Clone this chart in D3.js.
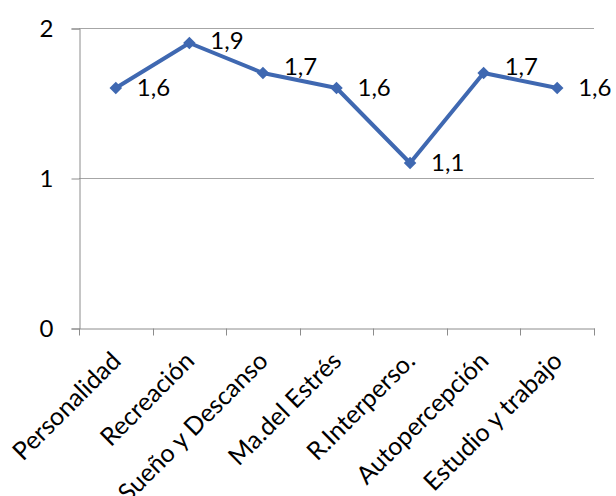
<!DOCTYPE html>
<html><head><meta charset="utf-8">
<script src="https://cdn.jsdelivr.net/npm/d3@7"></script>
<style>body{margin:0;background:#fff}svg{display:block}</style>
</head><body>
<svg id="c" width="616" height="496"></svg>
<script>
const categories = ["Personalidad","Recreación","Sueño y Descanso","Ma.del Estrés","R.Interperso.","Autopercepción","Estudio y trabajo"];
const values = [1.6,1.9,1.7,1.6,1.1,1.7,1.6];
const valueLabels = ["1,6","1,9","1,7","1,6","1,1","1,7","1,6"];
const yTicks = [0,1,2];

(function(){
const svg = d3.select("#c");
const font = "Lato, 'Open Sans', sans-serif";
const mLeft = 79, mRight = 594, mTop = 28, mBottom = 328;
const x = d3.scaleBand().domain(categories).range([mLeft, mRight]);
const y = d3.scaleLinear().domain([0,2]).range([mBottom, mTop]);
const blue = "#3f68b1";

svg.append("g").selectAll("line").data(yTicks.filter(d=>d>0)).join("line")
  .attr("x1", mLeft).attr("x2", mRight).attr("y1", d=>y(d)+0.5).attr("y2", d=>y(d)+0.5)
  .attr("stroke", "#a6a6a6").attr("stroke-width", 1);

const ya = svg.append("g").attr("transform", `translate(${mLeft+0.5},0.5)`)
  .call(d3.axisLeft(y).tickValues(yTicks).tickSize(8).tickPadding(18).tickFormat(d3.format("d")));
ya.select(".domain").attr("stroke", "#8c8c8c");
ya.selectAll(".tick line").attr("stroke", "#8c8c8c");
ya.selectAll(".tick text").attr("font-family", font).attr("font-size", 24).attr("fill", "#000");

const xa = svg.append("g").attr("transform", `translate(0.5,${mBottom+0.5})`)
  .call(d3.axisBottom(x).tickSize(0).tickFormat(""));
xa.select(".domain").attr("stroke", "#8c8c8c");
const bounds = categories.map(c => x(c)).concat([mRight]);
xa.selectAll(".bt").data(bounds).join("line").attr("class","bt")
  .attr("x1", d=>Math.round(d)).attr("x2", d=>Math.round(d)).attr("y1", 0).attr("y2", 7).attr("stroke", "#8c8c8c");
xa.selectAll(".cl").data(categories).join("text").attr("class","cl")
  .attr("transform", d => `translate(${x(d)+x.bandwidth()/2+6},${34}) rotate(-45)`)
  .attr("text-anchor", "end")
  .attr("font-family", font).attr("font-size", 25).attr("fill", "#000")
  .text(d=>d);

const cx = (d,i) => x(categories[i]) + x.bandwidth()/2;
svg.append("path").datum(values)
  .attr("d", d3.line().x((d,i)=>cx(d,i)).y(d=>y(d)))
  .attr("fill", "none").attr("stroke", blue).attr("stroke-width", 4).attr("stroke-linejoin","round");

svg.append("g").selectAll("path").data(values).join("path")
  .attr("transform", (d,i)=>`translate(${cx(d,i)},${y(d)})`)
  .attr("d", d3.symbol().type(d3.symbolDiamond2).size(100))
  .attr("fill", blue);

// label baseline: just under the point, lifted if the next segment falls into it
const labelOff = 21;
function baseline(i){
  let b = y(values[i]) + 8;
  if (i < values.length-1 && y(values[i+1]) > y(values[i])) {
    const slope = (y(values[i+1]) - y(values[i])) / x.bandwidth();
    const lineY = y(values[i]) + slope*(labelOff+2);
    b = Math.min(b, lineY - 3);
  }
  return b;
}
svg.append("g").selectAll("text").data(values).join("text")
  .attr("x", (d,i)=>cx(d,i)+labelOff).attr("y", (d,i)=>baseline(i))
  .attr("font-family", font).attr("font-size", 24).attr("fill", "#000")
  .text((d,i)=>valueLabels[i]);
})();
</script>
</body></html>
